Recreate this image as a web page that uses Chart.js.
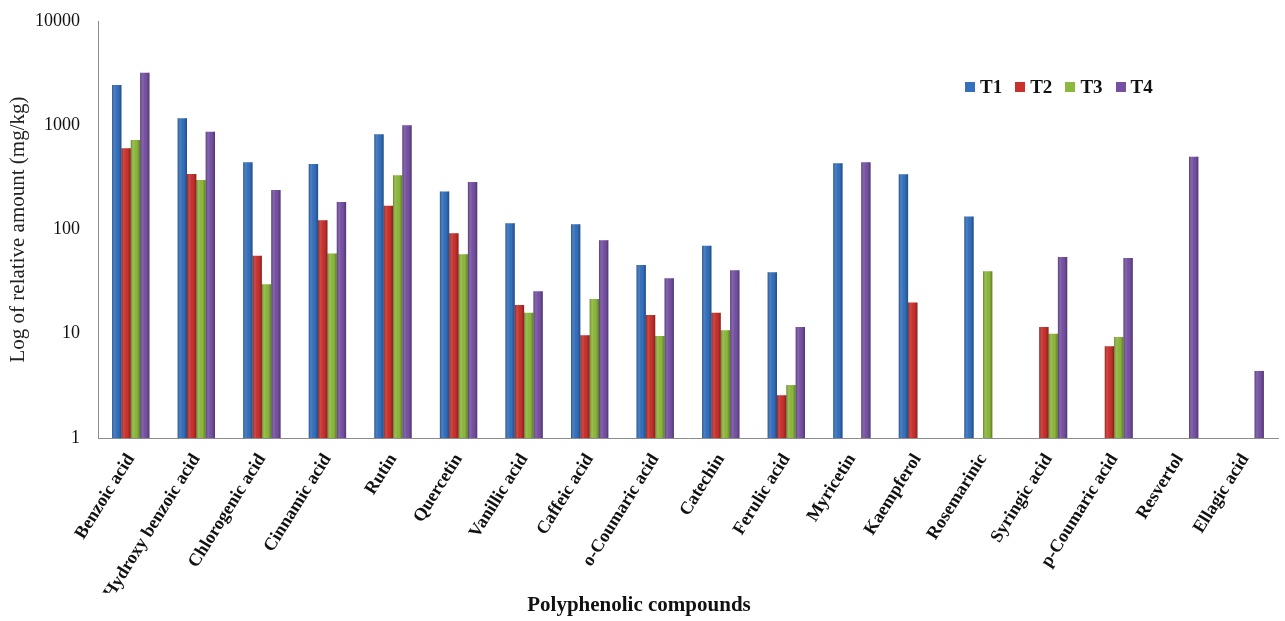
<!DOCTYPE html>
<html>
<head>
<meta charset="utf-8">
<script src="https://cdn.jsdelivr.net/npm/chart.js@4.4.1/dist/chart.umd.min.js"></script>
<style>
  body { margin: 0; background: #fff; }
  #wrap { position: relative; width: 1285px; height: 621px; }
  #legend {
    position: absolute; left: 965px; top: 76px;
    display: flex; align-items: center;
    font-family: "Liberation Serif", "Times New Roman", serif;
    font-weight: bold; font-size: 19px; color: #111;
  }
  #legend .item { display: flex; align-items: center; margin-right: 13px; }
  #legend .box { width: 10px; height: 10px; margin-right: 5px; }
</style>
</head>
<body>
<div id="wrap">
  <canvas id="polyChart" width="1285" height="621"></canvas>
  <div id="legend"></div>
</div>
<script>
// Categories along the x axis
var categories = [
    'Benzoic acid', 'p-Hydroxy benzoic acid', 'Chlorogenic acid', 'Cinnamic acid',
    'Rutin', 'Quercetin', 'Vanillic acid', 'Caffeic acid', 'o-Coumaric acid',
    'Catechin', 'Ferulic acid', 'Myricetin', 'Kaempferol', 'Rosemarinic',
    'Syringic acid', 'p-Coumaric acid', 'Resvertol', 'Ellagic acid'
];

// Series values (mg/kg), null = not detected
var t1 = [2430, 1170, 441, 425, 819, 232, 115, 112, 45.6, 70, 38.8, 432, 338, 133, null, null, null, null];
var t2 = [601, 341, 56, 123, 169, 92, 18.9, 9.7, 15.1, 15.9, 2.57, null, 19.9, null, 11.6, 7.6, null, null];
var t3 = [722, 298, 29.8, 59, 331, 58, 15.9, 21.5, 9.5, 10.8, 3.22, null, null, 39.7, 10, 9.3, null, null];
var t4 = [3190, 867, 239, 184, 1000, 285, 25.5, 79, 34, 40.6, 11.6, 441, null, null, 54.5, 53.3, 500, 4.4];

var seriesNames = ['T1', 'T2', 'T3', 'T4'];
var seriesValues = [t1, t2, t3, t4];
var seriesColors = ['#3470bd', '#c8312d', '#8cb83c', '#7651a3'];

// Log axis tick labels
var yTicks = [1, 10, 100, 1000, 10000];

var serif = '"Liberation Serif", "Times New Roman", serif';

// Build the HTML legend
var legendDiv = document.getElementById('legend');
seriesNames.forEach(function (name, i) {
    var item = document.createElement('div');
    item.className = 'item';
    item.innerHTML = '<span class="box" style="background:' + seriesColors[i] + '"></span>' + name;
    legendDiv.appendChild(item);
});

// Shade each bar a little so it looks like the Excel bevel
var barShade = {
    id: 'barShade',
    afterDatasetsDraw: function (chart) {
        var ctx = chart.ctx;
        chart.data.datasets.forEach(function (ds, i) {
            var meta = chart.getDatasetMeta(i);
            meta.data.forEach(function (bar, j) {
                if (ds.data[j] == null) return;
                var p = bar.getProps(['x', 'y', 'base', 'width'], true);
                var left = p.x - p.width / 2;
                var g = ctx.createLinearGradient(left, 0, left + p.width, 0);
                g.addColorStop(0, 'rgba(0,0,0,0.28)');
                g.addColorStop(0.3, 'rgba(255,255,255,0.10)');
                g.addColorStop(0.65, 'rgba(0,0,0,0)');
                g.addColorStop(1, 'rgba(0,0,0,0.32)');
                ctx.save();
                ctx.fillStyle = g;
                ctx.fillRect(left, p.y, p.width, p.base - p.y);
                ctx.restore();
            });
        });
    }
};

var datasets = seriesNames.map(function (name, i) {
    return {
        label: name,
        data: seriesValues[i],
        backgroundColor: seriesColors[i],
        borderWidth: 0,
        categoryPercentage: 0.57,
        barPercentage: 1.0
    };
});

var ctx = document.getElementById('polyChart').getContext('2d');
var myChart = new Chart(ctx, {
    type: 'bar',
    data: { labels: categories, datasets: datasets },
    plugins: [barShade],
    options: {
        responsive: false,
        animation: false,
        layout: { padding: { top: 21, right: 7, left: 0, bottom: 0 } },
        plugins: {
            legend: { display: false },
            tooltip: { enabled: false },
            title: {
                display: true,
                position: 'bottom',
                text: 'Polyphenolic compounds',
                color: '#111',
                font: { family: serif, size: 21, weight: 'bold' },
                padding: { top: 0, bottom: 3 }
            }
        },
        scales: {
            x: {
                grid: { display: false, drawTicks: false },
                border: { display: true, color: '#8c8c8c', width: 1 },
                ticks: {
                    color: '#111',
                    font: { family: serif, size: 18, weight: 'bold' },
                    minRotation: 58,
                    maxRotation: 58,
                    autoSkip: false,
                    padding: 12
                },
                afterFit: function (scale) { scale.height = 154.8; }
            },
            y: {
                type: 'logarithmic',
                min: 1,
                max: 10000,
                grid: { display: false, drawTicks: true, tickLength: 15 },
                border: { display: true, color: '#8c8c8c', width: 1 },
                afterBuildTicks: function (scale) {
                    scale.ticks = yTicks.map(function (v) { return { value: v }; });
                },
                ticks: {
                    color: '#111',
                    font: { family: serif, size: 18 },
                    padding: 3,
                    callback: function (value) { return String(value); }
                },
                title: {
                    display: true,
                    text: 'Log of relative amount (mg/kg)',
                    color: '#222',
                    font: { family: serif, size: 21 },
                    padding: { top: 6, bottom: 0 }
                },
                afterFit: function (scale) { scale.width = 98; }
            }
        }
    }
});
</script>
</body>
</html>
